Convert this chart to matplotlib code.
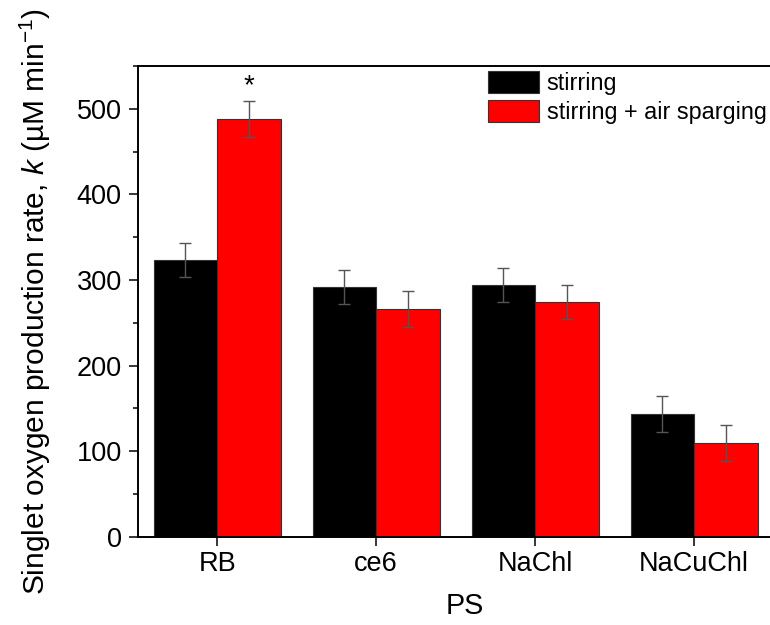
import matplotlib
matplotlib.use("Agg")
import matplotlib.pyplot as plt
from matplotlib.ticker import MultipleLocator
from matplotlib.patches import Patch
import numpy as np

# Photosensitisers and measured singlet-oxygen production rates (µM/min)
categories = ["RB", "ce6", "NaChl", "NaCuChl"]
stirring = [323, 292, 294, 143]
stirring_err = [20, 20, 20, 21]
sparging = [488, 266, 274, 109]
sparging_err = [21, 21, 20, 21]
series_labels = ["stirring", "stirring + air sparging"]

plt.rcParams["font.family"] = ["Liberation Sans", "DejaVu Sans"]
plt.rcParams["mathtext.fontset"] = "custom"
plt.rcParams["mathtext.rm"] = "Liberation Sans"
plt.rcParams["mathtext.it"] = "Liberation Sans:italic"

fig = plt.figure(figsize=(7.7, 6.25), dpi=100)
ax = fig.add_axes([137.7 / 770, (625 - 536.7) / 625, (773.7 - 137.7) / 770, (536.7 - 66) / 625])

x = np.arange(1, len(categories) + 1)
w = 0.4
err_kw = dict(ecolor="#555555", elinewidth=1.0, capsize=4.0, capthick=1.0)

ax.bar(x - w / 2, stirring, width=w, color="#000000", edgecolor="#333333",
       linewidth=0.8, zorder=2)
ax.bar(x + w / 2, sparging, width=w, color="#ff0000", edgecolor="#333333",
       linewidth=0.8, zorder=2)
ax.errorbar(x - w / 2, stirring, yerr=stirring_err, fmt="none", zorder=3, **err_kw)
ax.errorbar(x + w / 2, sparging, yerr=sparging_err, fmt="none", zorder=3, **err_kw)

# significance marker above the RB sparging bar
ax.text(1 + w / 2, 526, "*", ha="center", va="center", fontsize=20)

ax.set_xlim(0.5, 4.5)
ax.set_ylim(0, 550)
ax.set_xticks(x)
ax.set_xticklabels(categories)
ax.yaxis.set_major_locator(MultipleLocator(100))
ax.yaxis.set_minor_locator(MultipleLocator(50))

ax.tick_params(axis="both", which="major", direction="out", length=6.5,
               width=1.1, labelsize=19.5, top=False, right=False)
ax.tick_params(axis="x", which="major", pad=4)
ax.tick_params(axis="y", which="major", pad=5)
ax.tick_params(axis="y", which="minor", direction="out", length=3.3, width=1.1)
ax.tick_params(axis="x", which="minor", bottom=False)
for sp in ax.spines.values():
    sp.set_linewidth(1.4)

ax.set_xlabel("PS", fontsize=20.7)
ax.xaxis.set_label_coords(0.514, -0.117)
ax.set_ylabel("Singlet oxygen production rate, $k$ (\u00b5M min$^{-1}$)",
              fontsize=21.5, labelpad=17)

handles = [Patch(facecolor="#000000", edgecolor="#333333", linewidth=0.8),
           Patch(facecolor="#ff0000", edgecolor="#333333", linewidth=0.8)]
fig.legend(handles, series_labels, loc="upper left",
           bbox_to_anchor=(487.7 / 770, 1 - 71 / 625), frameon=False,
           fontsize=16.8, handlelength=2.21, handleheight=1.1,
           handletextpad=0.32, labelspacing=0.2, borderpad=0, borderaxespad=0)

fig.savefig("out.png", dpi=100)
